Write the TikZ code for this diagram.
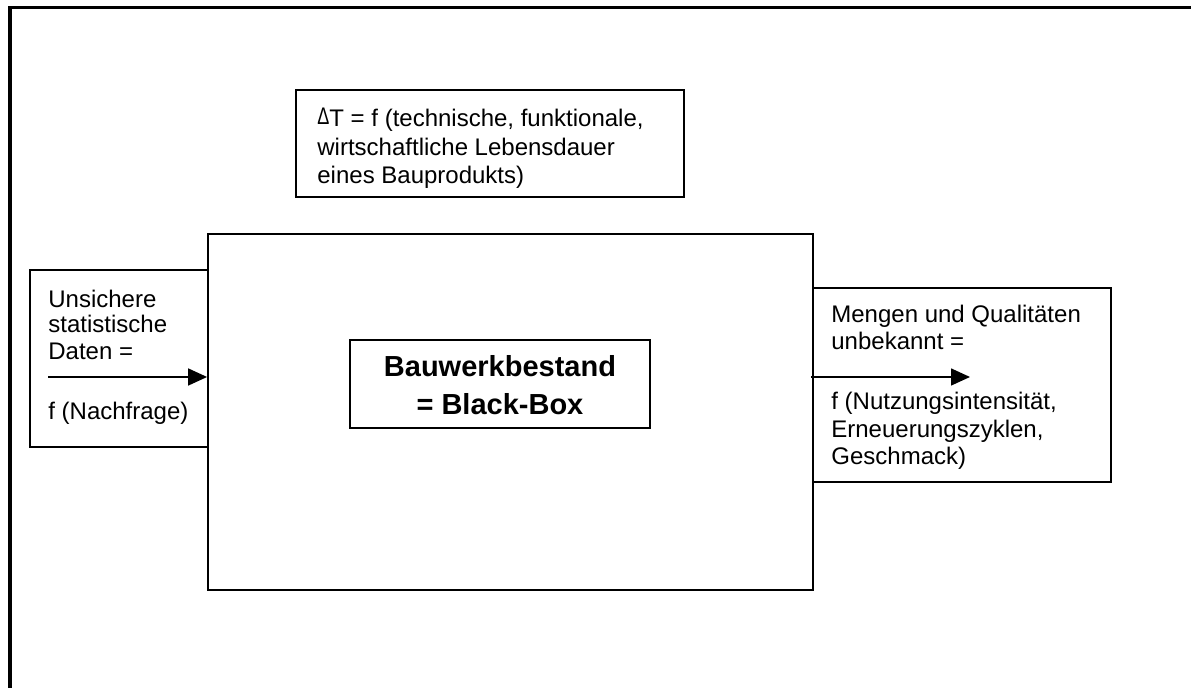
\documentclass[tikz,border=0pt]{standalone}
\usepackage{fontspec}
\setmainfont{Liberation Sans}
\usetikzlibrary{arrows.meta,fit}
\begin{document}
\begin{tikzpicture}[x=0.5pt,y=-0.5pt,
  frame/.style={line width=1.75pt,line join=miter},
  bigbox/.style={draw,line width=0.9pt,inner sep=0pt},
  box/.style={draw,line width=0.8pt,inner sep=0pt},
  txt/.style={anchor=base west,inner sep=0pt,font=\fontsize{12}{13.5}\selectfont},
  boldtxt/.style={anchor=base,inner sep=0pt,font=\fontsize{14.5}{18}\selectfont\bfseries},
  flow/.style={line width=0.8pt,-{Triangle[length=9.5pt,width=8.5pt]}}]
\useasboundingbox (0,0) rectangle (1191,688);
% outer frame
\draw[frame] (10,688) -- (10,7.7) -- (1191,7.7);
% boxes
\node[box,fit={(30,270)(208,447)}] (lin) {};
\node[bigbox,fit={(208,234)(813,590)}] (bb) {};
\node[box,fit={(813,288)(1111,482)}] (rout) {};
\node[box,fit={(296,90)(684,197)}] (dt) {};
\node[box,fit={(350,340)(650,428)}] (core) {};
% top box text
\node[txt] (t1) at (317,127) {\raisebox{1pt}{\scalebox{0.75}[1]{Δ}}T = f (technische, funktionale,};
\node[txt] (t2) at (317,156) {wirtschaftliche Lebensdauer};
\node[txt] (t3) at (317,184) {eines Bauprodukts)};
% left text
\node[txt] (l1) at (48,308) {Unsichere};
\node[txt] (l2) at (48,333) {statistische};
\node[txt] (l3) at (48,360) {Daten =};
\node[txt] (l4) at (48,420) {f (Nachfrage)};
% right text
\node[txt] (r1) at (831,323) {Mengen und Qualitäten};
\node[txt] (r2) at (831,350) {unbekannt =};
\node[txt] (r3) at (831,410) {f (Nutzungsintensität,};
\node[txt] (r4) at (831,438) {Erneuerungszyklen,};
\node[txt] (r5) at (831,465) {Geschmack)};
% centre text
\node[boldtxt] (c1) at (500,377) {Bauwerkbestand};
\node[boldtxt] (c2) at (500,415) {= Black-Box};
% arrows
\coordinate (ain) at (48,377);
\draw[flow] (ain) -- (ain -| bb.west);
\coordinate (aout) at (970,377);
\draw[flow,shorten <=-1.5pt] (aout -| bb.east) -- (aout);
\end{tikzpicture}
\end{document}
